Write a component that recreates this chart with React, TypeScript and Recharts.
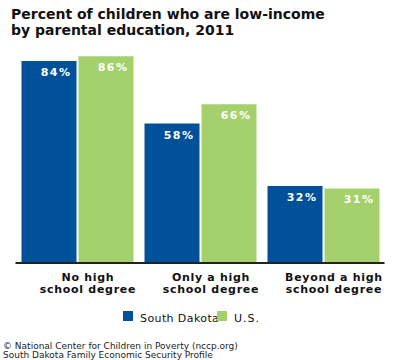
import React from "react";
import { BarChart, Bar, XAxis, YAxis, LabelList } from "recharts";

const categories = ["No high\nschool degree", "Only a high\nschool degree", "Beyond a high\nschool degree"];
const southDakota = [84, 58, 32];
const us = [86, 66, 31];

const data = categories.map((c, i) => ({ name: c, sd: southDakota[i], us: us[i] }));

const FONT = "'DejaVu Sans', Verdana, sans-serif";

const Tick = (props: any) => {
  const { x, y, payload } = props;
  const lines = String(payload.value).split("\n");
  return (
    <g>
      {lines.map((l: string, i: number) => (
        <text key={i} x={x + 11} y={y + 10 + i * 11.5} textAnchor="middle" fontFamily={FONT} fontSize={11} fontWeight="bold" fill="#111" letterSpacing={0.7}>
          {l}
        </text>
      ))}
    </g>
  );
};

const PctLabel = (props: any) => {
  const { x, y, width, value } = props;
  return (
    <text x={x + width - 5} y={y + 15} textAnchor="end" fontFamily={FONT} fontSize={11} fontWeight="bold" fill="#fff" letterSpacing={1.5}>
      {value}%
    </text>
  );
};

export default function App() {
  return (
    <div style={{ position: "absolute", left: 0, top: 0, width: 400, height: 360, background: "#fff", fontFamily: FONT }}>
      <div style={{ position: "absolute", left: 11, top: 6, fontSize: 14, fontWeight: "bold", lineHeight: "16px", color: "#111", whiteSpace: "nowrap" }}>
        Percent of children who are low-income
        <br />
        by parental education, 2011
      </div>
      <BarChart width={400} height={360} data={data} margin={{ top: 22.5, left: 15.5, right: 15.5, bottom: 0 }} barCategoryGap={6} barGap={2}>
        <YAxis hide domain={[0, 100]} />
        <XAxis dataKey="name" height={97} tickLine={false} axisLine={{ stroke: "#222", strokeWidth: 2 }} tick={<Tick />} interval={0} />
        <Bar dataKey="sd" fill="#01509a" isAnimationActive={false}>
          <LabelList dataKey="sd" content={<PctLabel />} />
        </Bar>
        <Bar dataKey="us" fill="#a5d16c" isAnimationActive={false}>
          <LabelList dataKey="us" content={<PctLabel />} />
        </Bar>
      </BarChart>
      <div style={{ position: "absolute", left: 123, top: 311, width: 10, height: 10, background: "#01509a" }} />
      <div style={{ position: "absolute", left: 140, top: 312, fontSize: 11, color: "#111", lineHeight: "14px", letterSpacing: 0.4, whiteSpace: "nowrap" }}>South Dakota</div>
      <div style={{ position: "absolute", left: 217, top: 311, width: 10, height: 10, background: "#a5d16c" }} />
      <div style={{ position: "absolute", left: 234, top: 312, fontSize: 11, color: "#111", lineHeight: "14px", letterSpacing: 1 }}>U.S.</div>
      <div style={{ position: "absolute", left: 3, top: 342, fontSize: 9, color: "#222", lineHeight: "9px", whiteSpace: "nowrap" }}>
        © National Center for Children in Poverty (nccp.org)
        <br />
        South Dakota Family Economic Security Profile
      </div>
    </div>
  );
}
